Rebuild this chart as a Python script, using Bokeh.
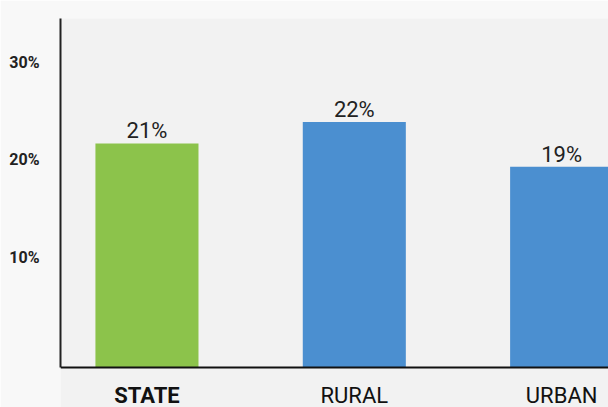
from bokeh.plotting import figure
from bokeh.models import Range1d, ColumnDataSource, FixedTicker, Span
from bokeh.core.properties import value
from bokeh.embed import file_html
from bokeh.resources import INLINE

categories = ["STATE", "RURAL", "URBAN"]
bar_values = [21.7, 23.9, 19.3]
value_labels = ["21%", "22%", "19%"]
bar_colors = ["#8cc34b", "#4b8fd0", "#4b8fd0"]
category_styles = ["bold", "normal", "normal"]
tick_values = [10, 20, 30]
tick_labels = ["10%", "20%", "30%"]

FONT = "Roboto"
Y_TOP = 34.51
Y_BOTTOM = -5.385
BASE = -1.282

xs = list(range(len(categories)))
src = ColumnDataSource(dict(x=xs, top=bar_values, color=bar_colors, lab=value_labels))
cat_src = ColumnDataSource(dict(x=xs, y=[Y_BOTTOM] * len(xs), cat=categories, style=category_styles))

p = figure(width=608, height=407, output_backend="svg", toolbar_location=None,
           x_range=Range1d(-0.417, 2.226), y_range=Range1d(Y_BOTTOM, Y_TOP),
           min_border_left=60, min_border_right=0, min_border_top=18, min_border_bottom=0)
p.background_fill_color = "#f2f2f2"
p.border_fill_color = "#f8f8f8"
p.outline_line_color = None
p.grid.visible = False
p.xaxis.visible = False

p.vbar(x="x", top="top", bottom=BASE, width=0.497, fill_color="color", line_color=None, source=src)
p.text(x="x", y="top", text="lab", source=src, text_align="center", text_baseline="bottom",
       text_font=value(FONT), text_font_size="22px", text_color="#222222")
p.text(x="x", y="y", text="cat", source=cat_src, text_align="center", text_baseline="bottom",
       text_font=value(FONT), text_font_size="22px", text_font_style="style", text_color="#111111")

p.add_layout(Span(location=BASE, dimension="width", line_width=2, line_color="#111111"))

p.yaxis.bounds = (BASE, Y_TOP)
p.yaxis.ticker = FixedTicker(ticks=tick_values)
p.yaxis.major_label_overrides = {t: l for t, l in zip(tick_values, tick_labels)}
p.yaxis.major_tick_line_color = None
p.yaxis.minor_tick_line_color = None
p.yaxis.axis_line_width = 2
p.yaxis.axis_line_color = "#222222"
p.yaxis.major_label_standoff = 15
p.yaxis.major_label_text_font = FONT
p.yaxis.major_label_text_font_size = "16px"
p.yaxis.major_label_text_font_style = "bold"
p.yaxis.major_label_text_color = "#222222"

open("out.html", "w").write(file_html(p, INLINE))
